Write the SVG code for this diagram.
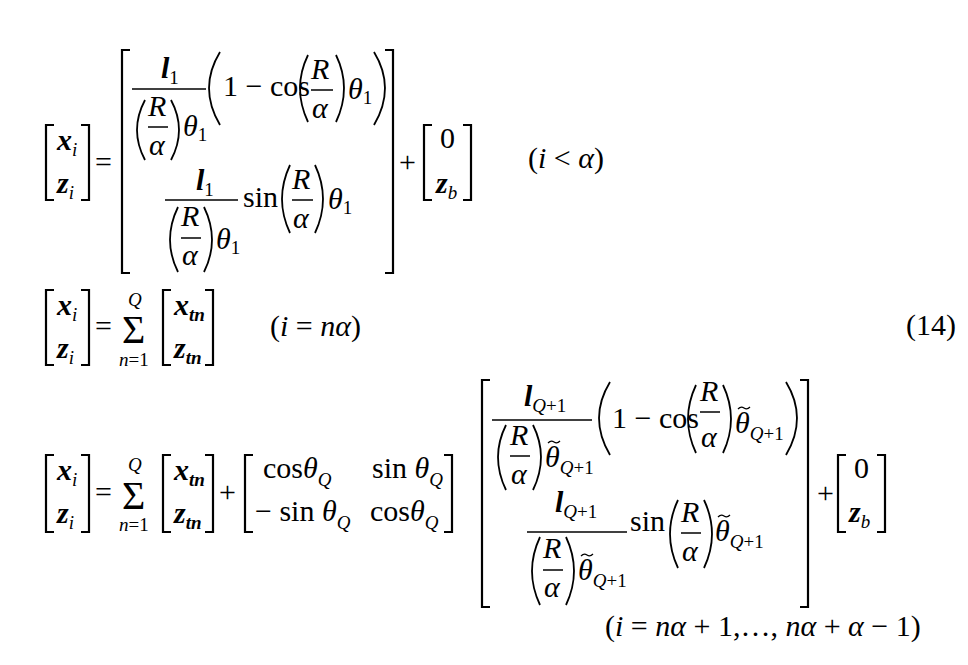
<svg xmlns="http://www.w3.org/2000/svg" width="968" height="665" viewBox="0 0 968 665">
<style>
text{font-family:"Liberation Serif","DejaVu Serif",serif;font-size:30px;fill:#000}
.v{font-style:italic}
.vb{font-style:italic;font-weight:bold}
.s{font-size:19px;font-style:normal;font-weight:normal}
.sv{font-size:19px;font-style:italic;font-weight:normal}
.sb{font-size:19px;font-style:italic;font-weight:bold}
.b{fill:none;stroke:#000;stroke-width:2.2}
.p{fill:none;stroke:#000;stroke-width:1.8}
.l{stroke:#000;stroke-width:1.5}
.t{fill:none;stroke:#000;stroke-width:1.3}
.sig{font-size:40px}
</style>
<rect width="968" height="665" fill="#fff"/>
<g id="eq1">
<path class="b" d="M54,125 H46 V200 H54 M81,125 H89 V200 H81"/>
<text class="vb" x="57" y="150">x<tspan class="sv" dy="6">i</tspan></text>
<text class="vb" x="57" y="193">z<tspan class="sv" dy="6">i</tspan></text>
<text x="95" y="172">=</text>
<path class="b" d="M130,50 H122 V273 H130 M385,50 H393 V273 H385"/>
<text class="vb" x="161" y="78">l<tspan class="s" dy="6">1</tspan></text>
<line class="l" x1="132" y1="89" x2="206" y2="89"/>
<path class="p" d="M145,100 Q129,130 145,160"/>
<text class="v" x="148" y="116">R</text><line class="l" x1="148" y1="127" x2="168" y2="127"/><text class="v" x="149" y="155">α</text>
<path class="p" d="M171,100 Q187,130 171,160"/>
<text class="v" x="183" y="136">θ<tspan class="s" dy="5">1</tspan></text>
<path class="p" d="M220,52 Q198,88 220,125"/>
<text x="223" y="96">1 − cos</text>
<path class="p" d="M308,55 Q292,88 308,122"/>
<text class="v" x="311" y="79">R</text><line class="l" x1="311" y1="90" x2="333" y2="90"/><text class="v" x="312" y="118">α</text>
<path class="p" d="M336,55 Q352,88 336,122"/>
<text class="v" x="348" y="99">θ<tspan class="s" dy="5">1</tspan></text>
<path class="p" d="M374,52 Q396,88 374,125"/>
<text class="vb" x="196" y="190">l<tspan class="s" dy="6">1</tspan></text>
<line class="l" x1="165" y1="200" x2="238" y2="200"/>
<path class="p" d="M178,207 Q162,240 178,272"/>
<text class="v" x="181" y="226">R</text><line class="l" x1="181" y1="238" x2="201" y2="238"/><text class="v" x="182" y="265">α</text>
<path class="p" d="M204,207 Q220,240 204,272"/>
<text class="v" x="216" y="249">θ<tspan class="s" dy="5">1</tspan></text>
<text x="243" y="207">sin</text>
<path class="p" d="M290,165 Q274,199 290,233"/>
<text class="v" x="292" y="189">R</text><line class="l" x1="292" y1="200" x2="313" y2="200"/><text class="v" x="293" y="228">α</text>
<path class="p" d="M315,165 Q331,199 315,233"/>
<text class="v" x="328" y="209">θ<tspan class="s" dy="5">1</tspan></text>
<text x="399" y="172">+</text>
<path class="b" d="M432,125 H424 V200 H432 M463,125 H471 V200 H463"/>
<text x="440" y="148">0</text>
<text class="vb" x="436" y="193">z<tspan class="sv" dy="6">b</tspan></text>
<text x="528" y="168">(<tspan class="v">i</tspan> &lt; <tspan class="v">α</tspan>)</text>
</g>
<g id="eq2">
<path class="b" d="M54,290 H46 V365 H54 M81,290 H89 V365 H81"/>
<text class="vb" x="57" y="315">x<tspan class="sv" dy="6">i</tspan></text>
<text class="vb" x="57" y="358">z<tspan class="sv" dy="6">i</tspan></text>
<text x="95" y="336">=</text>
<text class="sig" x="122" y="343">Σ</text>
<text class="sv" x="128" y="306">Q</text>
<text class="s" x="119" y="366"><tspan class="sv">n</tspan>=1</text>
<path class="b" d="M171,290 H163 V365 H171 M205,290 H213 V365 H205"/>
<text class="vb" x="174" y="315">x<tspan class="sb" dy="6">tn</tspan></text>
<text class="vb" x="174" y="358">z<tspan class="sb" dy="6">tn</tspan></text>
<text x="270" y="336">(<tspan class="v">i</tspan> = <tspan class="v">nα</tspan>)</text>
<text x="906" y="335">(14)</text>
</g>
<g id="eq3">
<path class="b" d="M54,455 H46 V532 H54 M81,455 H89 V532 H81"/>
<text class="vb" x="57" y="480">x<tspan class="sv" dy="6">i</tspan></text>
<text class="vb" x="57" y="523">z<tspan class="sv" dy="6">i</tspan></text>
<text x="95" y="502">=</text>
<text class="sig" x="122" y="509">Σ</text>
<text class="sv" x="128" y="471">Q</text>
<text class="s" x="119" y="531"><tspan class="sv">n</tspan>=1</text>
<path class="b" d="M171,455 H163 V532 H171 M205,455 H213 V532 H205"/>
<text class="vb" x="174" y="480">x<tspan class="sb" dy="6">tn</tspan></text>
<text class="vb" x="174" y="523">z<tspan class="sb" dy="6">tn</tspan></text>
<text x="219" y="502">+</text>
<path class="b" d="M253,455 H245 V532 H253 M444,455 H452 V532 H444"/>
<text x="263" y="478">cos<tspan class="v">θ</tspan><tspan class="sv" dy="8">Q</tspan></text>
<text x="372" y="478">sin <tspan class="v">θ</tspan><tspan class="sv" dy="8">Q</tspan></text>
<text x="255" y="521">− sin <tspan class="v">θ</tspan><tspan class="sv" dy="8">Q</tspan></text>
<text x="370" y="521">cos<tspan class="v">θ</tspan><tspan class="sv" dy="8">Q</tspan></text>
<path class="b" d="M490,380 H482 V607 H490 M800,380 H808 V607 H800"/>
<text class="vb" x="524" y="406">l<tspan class="sv" dy="6">Q</tspan><tspan class="s">+1</tspan></text>
<line class="l" x1="492" y1="420" x2="592" y2="420"/>
<path class="p" d="M506,425 Q490,457 506,490"/>
<text class="v" x="510" y="445">R</text><line class="l" x1="510" y1="456" x2="530" y2="456"/><text class="v" x="511" y="484">α</text>
<path class="p" d="M533,425 Q549,457 533,490"/>
<text class="v" x="545" y="467">θ<tspan class="sv" dy="7">Q</tspan><tspan class="s">+1</tspan></text><path class="t" d="M548,443 q3,-3 6,-1 t6,-1"/>
<path class="p" d="M610,382 Q588,418 610,455"/>
<text x="612" y="428">1 − cos</text>
<path class="p" d="M696,385 Q680,419 696,453"/>
<text class="v" x="700" y="401">R</text><line class="l" x1="700" y1="412" x2="720" y2="412"/><text class="v" x="701" y="447">α</text>
<path class="p" d="M723,385 Q739,419 723,453"/>
<text class="v" x="735" y="433">θ<tspan class="sv" dy="7">Q</tspan><tspan class="s">+1</tspan></text><path class="t" d="M738,409 q3,-3 6,-1 t6,-1"/>
<path class="p" d="M786,382 Q808,418 786,455"/>
<text class="vb" x="555" y="512">l<tspan class="sv" dy="6">Q</tspan><tspan class="s">+1</tspan></text>
<line class="l" x1="527" y1="532" x2="627" y2="532"/>
<path class="p" d="M540,537 Q524,571 540,605"/>
<text class="v" x="543" y="558">R</text><line class="l" x1="543" y1="570" x2="563" y2="570"/><text class="v" x="544" y="597">α</text>
<path class="p" d="M566,537 Q582,571 566,605"/>
<text class="v" x="578" y="580">θ<tspan class="sv" dy="7">Q</tspan><tspan class="s">+1</tspan></text><path class="t" d="M581,556 q3,-3 6,-1 t6,-1"/>
<text x="630" y="531">sin</text>
<path class="p" d="M678,500 Q662,534 678,568"/>
<text class="v" x="681" y="522">R</text><line class="l" x1="681" y1="533" x2="701" y2="533"/><text class="v" x="682" y="561">α</text>
<path class="p" d="M704,500 Q720,534 704,568"/>
<text class="v" x="715" y="541">θ<tspan class="sv" dy="7">Q</tspan><tspan class="s">+1</tspan></text><path class="t" d="M718,517 q3,-3 6,-1 t6,-1"/>
<text x="817" y="503">+</text>
<path class="b" d="M846,455 H838 V532 H846 M877,455 H885 V532 H877"/>
<text x="854" y="478">0</text>
<text class="vb" x="849" y="522">z<tspan class="sv" dy="6">b</tspan></text>
<text x="605" y="636">(<tspan class="v">i</tspan> = <tspan class="v">nα</tspan> + 1,…, <tspan class="v">nα</tspan> + <tspan class="v">α</tspan> − 1)</text>
</g>
</svg>
